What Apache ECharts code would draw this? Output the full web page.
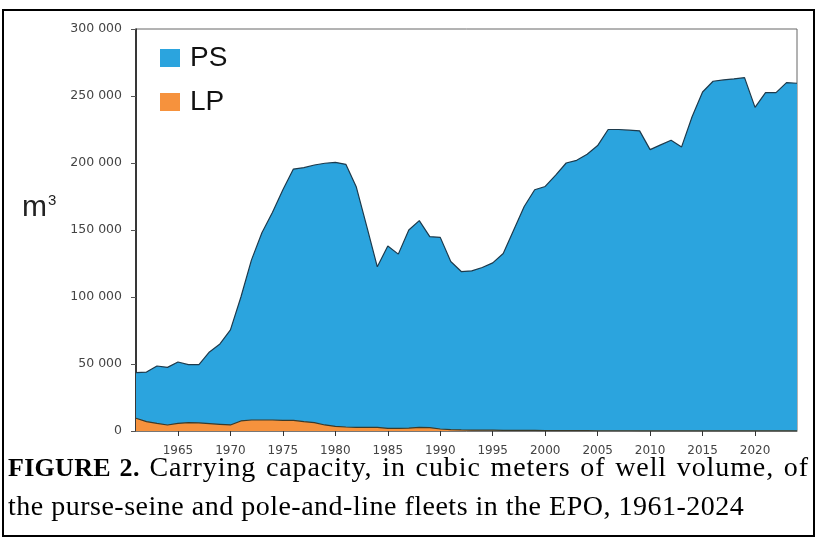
<!DOCTYPE html>
<html>
<head>
<meta charset="utf-8" />
<title>Carrying capacity</title>
<script src="https://cdn.jsdelivr.net/npm/echarts@6/dist/echarts.min.js"></script>
<style>
	* { margin: 0; padding: 0; }
	html, body { width: 817px; height: 539px; background: #fff; overflow: hidden; }
	#main { position: absolute; left: 0; top: 0; width: 817px; height: 539px; }
	.frame {
		position: absolute; left: 2px; top: 9px; width: 809px; height: 524px;
		border: 2px solid #000; pointer-events: none;
	}
	.caption {
		position: absolute; left: 8px; top: 448px; width: 801px;
		font-family: "Liberation Serif", "Times New Roman", serif;
		font-size: 28px; line-height: 38px; color: #000; letter-spacing: 0.5px;
	}
	.caption .l1 { text-align: justify; text-align-last: justify; white-space: nowrap; letter-spacing: 0.9px; }
	.caption b { letter-spacing: 0.3px; font-size: 26px; }
</style>
</head>
<body>
<div id="main"></div>
<div class="frame"></div>
<div class="caption">
	<div class="l1"><b>FIGURE 2.</b> Carrying capacity, in cubic meters of well volume, of</div>
	<div>the purse-seine and pole-and-line fleets in the EPO, 1961-2024</div>
</div>
<script>
// years 1961-2024
var years = [];
for (var y = 1961; y <= 2024; y++) years.push(String(y));

// purse-seine (top outline of the blue area), m3
var ps = [
	43500, 44000, 48500, 47500, 51500, 49500, 49500, 59000, 65000, 75500,
	100000, 127500, 148000, 163000, 180000, 195500, 196500, 198500, 199800, 200500,
	199000, 182000, 152500, 122500, 138000, 132000, 150000, 157000, 145000, 144500,
	126500, 119000, 119500, 122000, 125500, 132500, 150000, 167500, 180000, 182500,
	191000, 200000, 202000, 206500, 213000, 225000, 225000, 224500, 224000, 210000,
	213500, 217000, 212000, 234500, 253000, 261000, 262000, 262800, 263700, 241500,
	252500, 252500, 260000, 259500
];

// pole-and-line, m3
var lp = [
	9500, 7000, 5700, 4500, 5700, 6200, 6000, 5500, 5000, 4500,
	7500, 8200, 8200, 8200, 8000, 8000, 7000, 6200, 4500, 3500,
	3000, 2700, 2700, 2700, 2000, 2000, 2200, 2700, 2500, 1500,
	1000, 800, 700, 600, 600, 500, 500, 400, 400, 300,
	300, 300, 250, 250, 200, 200, 200, 200, 150, 150,
	150, 100, 100, 100, 100, 100, 100, 100, 100, 100,
	100, 100, 100, 100
];

var yTicks = [0, 50000, 100000, 150000, 200000, 250000, 300000];

var tickFont = '"DejaVu Sans", Arial, sans-serif';

var myChart = echarts.init(document.getElementById('main'));
myChart.setOption({
	animation: false,
	textStyle: { fontFamily: 'Arial, "Liberation Sans", sans-serif' },
	grid: {
		left: 136, right: 20, top: 29, bottom: 108,
		show: true, borderColor: '#666', borderWidth: 1
	},
	legend: {
		data: ['PS', 'LP'],
		orient: 'vertical',
		left: 160, top: 44, padding: 0,
		icon: 'rect',
		itemWidth: 20, itemHeight: 18, itemGap: 16,
		textStyle: { fontSize: 28, color: '#111', padding: [0, 0, 0, 5] }
	},
	graphic: [{
		type: 'text', left: 22, top: 193,
		style: {
			text: '{m|m}{s|3}',
			rich: {
				m: { fontSize: 30, fill: '#222', fontFamily: 'Arial' },
				s: { fontSize: 15, fill: '#222', fontFamily: 'Arial', verticalAlign: 'top', padding: [0, 0, 12, 1] }
			}
		}
	}],
	xAxis: {
		type: 'category',
		data: years,
		boundaryGap: false,
		axisLine: { show: true, lineStyle: { color: '#777', width: 1 } },
		axisTick: {
			show: true, length: 5,
			lineStyle: { color: '#333' },
			interval: function (i, v) { return +v % 5 === 0; }
		},
		axisLabel: {
			color: '#444', fontSize: 12, margin: 14, fontFamily: tickFont,
			interval: function (i, v) { return +v % 5 === 0; }
		},
		splitLine: { show: false }
	},
	yAxis: {
		type: 'value',
		min: yTicks[0], max: yTicks[yTicks.length - 1], interval: 50000,
		axisLine: { show: true, lineStyle: { color: '#111', width: 1.5 } },
		axisTick: { show: true, length: 5, lineStyle: { color: '#555' } },
		axisLabel: {
			color: '#444', fontSize: 12.5, margin: 14, fontFamily: tickFont,
			formatter: function (v) {
				return String(v).replace(/\B(?=(\d{3})+(?!\d))/g, ' ');
			}
		},
		splitLine: { show: false }
	},
	series: [{
		name: 'PS',
		type: 'line',
		data: ps,
		showSymbol: false,
		color: '#2ba4de',
		lineStyle: { color: '#1d3a4c', width: 1.2 },
		areaStyle: { color: '#2ba4de', opacity: 1 },
		z: 2
	}, {
		name: 'LP',
		type: 'line',
		data: lp,
		showSymbol: false,
		color: '#f6923d',
		lineStyle: { color: '#3a3a2a', width: 1.2 },
		areaStyle: { color: '#f6923d', opacity: 1 },
		z: 3
	}]
});
</script>
</body>
</html>
